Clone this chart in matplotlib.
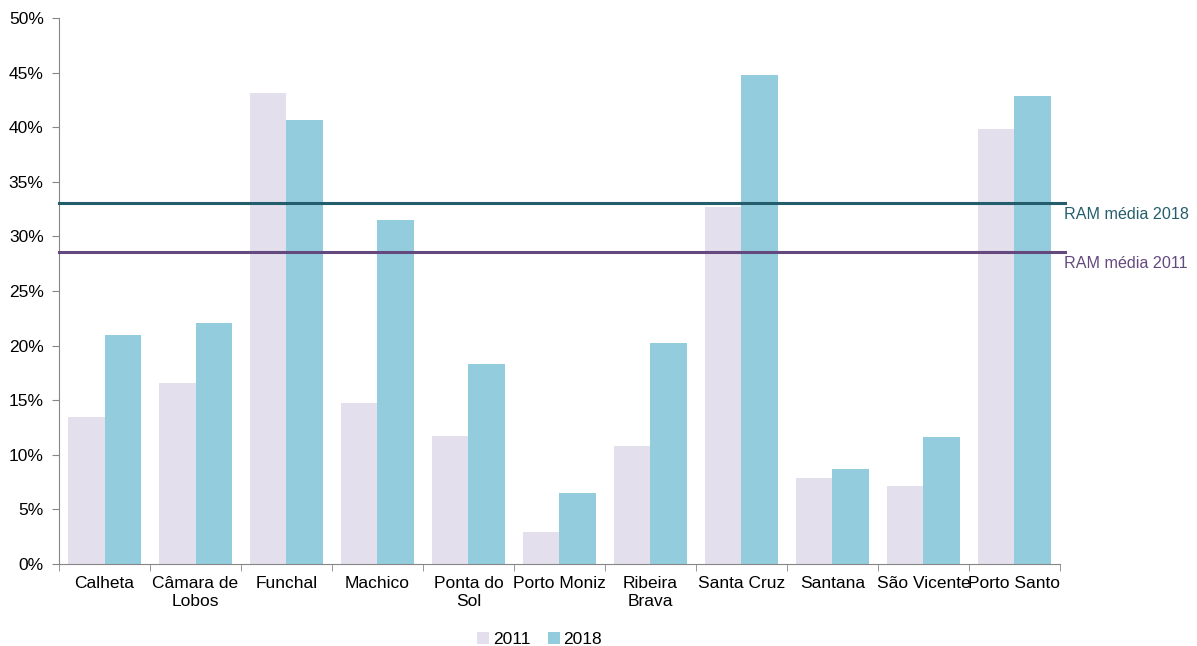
import numpy as np
import matplotlib.pyplot as plt

plt.rcParams['font.family'] = ['Liberation Sans', 'DejaVu Sans']

concelhos = ['Calheta', 'Câmara de\nLobos', 'Funchal', 'Machico', 'Ponta do\nSol',
             'Porto Moniz', 'Ribeira\nBrava', 'Santa Cruz', 'Santana', 'São Vicente',
             'Porto Santo']
v2011 = [13.5, 16.6, 43.1, 14.7, 11.7, 2.9, 10.8, 32.7, 7.9, 7.1, 39.8]
v2018 = [21.0, 22.1, 40.7, 31.5, 18.3, 6.5, 20.2, 44.8, 8.7, 11.6, 42.9]
media_2011 = 28.6
media_2018 = 33.1

c2011 = '#E4DFEC'
c2018 = '#93CDDD'
cl2018 = '#245E6C'
cl2011 = '#64497E'
grey = '#868686'

fig = plt.figure(figsize=(11.97, 6.46), dpi=100)
ax = fig.add_axes([0.0493, 0.127, 0.8362, 0.845])

x = np.arange(len(concelhos))
w = 0.4
ax.bar(x - w / 2, v2011, w, color=c2011, label='2011')
ax.bar(x + w / 2, v2018, w, color=c2018, label='2018')

# linhas das médias regionais, ligeiramente para lá do eixo
ax.plot([-0.5, 10.56], [media_2018, media_2018], color=cl2018, lw=2.2, clip_on=False, zorder=3)
ax.plot([-0.5, 10.56], [media_2011, media_2011], color=cl2011, lw=2.2, clip_on=False, zorder=3)
ax.text(10.55, media_2018 - 1.1, 'RAM média 2018', color=cl2018, fontsize=11.6,
        va='center', ha='left')
ax.text(10.55, media_2011 - 1.1, 'RAM média 2011', color=cl2011, fontsize=11.6,
        va='center', ha='left')

ax.set_xlim(-0.5, 10.5)
ax.set_ylim(0, 50)
ax.set_yticks(np.arange(0, 51, 5))
ax.set_yticklabels([f'{v}%' for v in range(0, 51, 5)], fontsize=12.5)
ax.set_xticks(x)
ax.set_xticklabels(concelhos, fontsize=12.5, linespacing=1.25)
ax.set_xticks(np.arange(-0.5, 11, 1), minor=True)
ax.tick_params(axis='x', which='major', length=0, pad=9)
ax.tick_params(axis='x', which='minor', length=5, color=grey, direction='out')
ax.tick_params(axis='y', length=5, color=grey, pad=6)

for s in ['top', 'right']:
    ax.spines[s].set_visible(False)
for s in ['left', 'bottom']:
    ax.spines[s].set_color(grey)

ax.legend(loc='lower center', bbox_to_anchor=(0.48, -0.172), ncol=2, frameon=False,
          fontsize=12.5, handlelength=0.7, handleheight=0.7, handletextpad=0.2,
          columnspacing=1.0, borderaxespad=0.2)

fig.savefig('out.png', dpi=100)
